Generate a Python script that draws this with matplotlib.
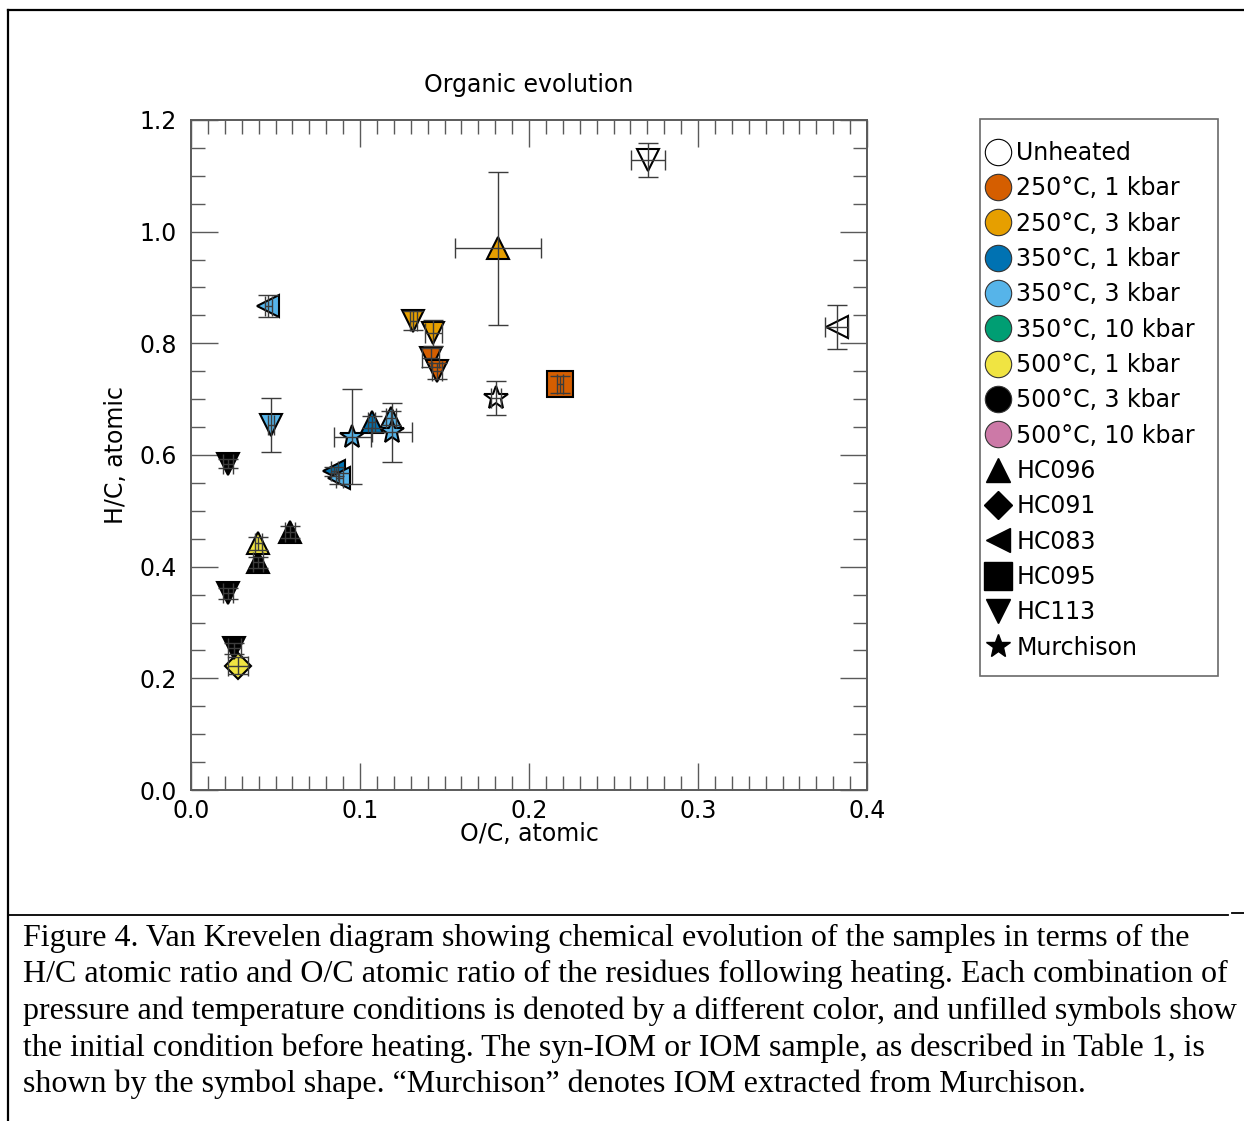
"""Diagrama de Van Krevelen: evolucion de H/C y O/C de los residuos tras el calentamiento."""
import matplotlib

matplotlib.use("Agg")
import matplotlib.pyplot as plt  # noqa: E402
from matplotlib.lines import Line2D  # noqa: E402
from matplotlib.patches import Rectangle  # noqa: E402
from matplotlib.ticker import MultipleLocator  # noqa: E402

# --- Datos ---
conditions = [
    "Unheated", "250°C, 1 kbar", "250°C, 3 kbar", "350°C, 1 kbar", "350°C, 3 kbar",
    "350°C, 10 kbar", "500°C, 1 kbar", "500°C, 3 kbar", "500°C, 10 kbar",
]
condition_colors = [
    "#ffffff", "#D55E00", "#E69F00", "#0072B2", "#56B4E9",
    "#009E73", "#F0E442", "#000000", "#CC79A7",
]
samples = ["HC096", "HC091", "HC083", "HC095", "HC113", "Murchison"]
sample_markers = ["^", "D", "<", "s", "v", "*"]

# un elemento por medida, en orden de dibujo
pt_condition = [
    "Unheated", "Unheated", "Unheated",
    "250°C, 3 kbar", "250°C, 3 kbar", "250°C, 3 kbar",
    "250°C, 1 kbar", "250°C, 1 kbar", "250°C, 1 kbar",
    "350°C, 3 kbar", "350°C, 3 kbar", "350°C, 3 kbar", "350°C, 1 kbar",
    "350°C, 1 kbar", "350°C, 3 kbar",
    "350°C, 3 kbar", "350°C, 3 kbar",
    "500°C, 3 kbar", "500°C, 3 kbar", "500°C, 3 kbar", "500°C, 1 kbar",
    "500°C, 3 kbar", "500°C, 1 kbar", "500°C, 3 kbar",
]
pt_sample = [
    "HC113", "HC083", "Murchison",
    "HC096", "HC113", "HC113",
    "HC113", "HC113", "HC095",
    "HC083", "HC113", "HC096", "HC096",
    "HC083", "HC083",
    "Murchison", "Murchison",
    "HC113", "HC096", "HC096", "HC096",
    "HC113", "HC091", "HC113",
]
oc = [
    0.2704, 0.382, 0.1805,
    0.1818, 0.1315, 0.1434,
    0.1418, 0.1458, 0.2183,
    0.0457, 0.0473, 0.1183, 0.107,
    0.0849, 0.0878,
    0.0955, 0.119,
    0.0217, 0.0586, 0.0398, 0.0398,
    0.0217, 0.028, 0.0256,
]
hc = [
    1.128, 0.829, 0.702,
    0.970, 0.8406, 0.8186,
    0.774, 0.750, 0.7267,
    0.867, 0.654, 0.666, 0.659,
    0.571, 0.558,
    0.633, 0.641,
    0.584, 0.462, 0.408, 0.4415,
    0.352, 0.2226, 0.254,
]
oc_err = [
    0.010, 0.007, 0.003,
    0.0255, 0.002, 0.005,
    0.005, 0.003, 0.002,
    0.002, 0.002, 0.003, 0.002,
    0.002, 0.002,
    0.011, 0.012,
    0.003, 0.003, 0.003, 0.002,
    0.003, 0.006, 0.004,
]
hc_err = [
    0.030, 0.040, 0.030,
    0.137, 0.017, 0.024,
    0.017, 0.014, 0.015,
    0.020, 0.048, 0.012, 0.010,
    0.008, 0.010,
    0.085, 0.053,
    0.008, 0.010, 0.010, 0.012,
    0.010, 0.015, 0.010,
]

caption_lines = [
    "Figure 4. Van Krevelen diagram showing chemical evolution of the samples in terms of the",
    "H/C atomic ratio and O/C atomic ratio of the residues following heating. Each combination of",
    "pressure and temperature conditions is denoted by a different color, and unfilled symbols show",
    "the initial condition before heating. The syn-IOM or IOM sample, as described in Table 1, is",
    "shown by the symbol shape. \u201cMurchison\u201d denotes IOM extracted from Murchison.",
]

# --- Estilo ---
FS = 17
TICK_GREY = "#5a5a5a"
ERR_GREY = "#3c3c3c"
MARKER_SIZE = {"^": 15.5, "v": 15.5, "<": 15.5, "s": 19, "D": 13.2, "*": 18}
LEGEND_SIZE = {"^": 17, "v": 17, "<": 17, "s": 20, "D": 14, "*": 18}

plt.rcParams["font.family"] = ["DejaVu Sans"]

fig = plt.figure(figsize=(12.44, 11.21), dpi=100)
W, H = 1244, 1121
ax = fig.add_axes([191 / W, 1 - 790 / H, 676 / W, 670 / H])

color_of = dict(zip(conditions, condition_colors))
marker_of = dict(zip(samples, sample_markers))

for cond, samp, x, y in zip(pt_condition, pt_sample, oc, hc):
    m = marker_of[samp]
    ax.plot(x, y, linestyle="none", marker=m, markersize=MARKER_SIZE[m],
            markerfacecolor=color_of[cond], markeredgecolor="black",
            markeredgewidth=1.5, zorder=2)

ax.errorbar(oc, hc, xerr=oc_err, yerr=hc_err, fmt="none", ecolor=ERR_GREY,
            elinewidth=1.0, capsize=7, capthick=1.0, zorder=3)

ax.set_xlim(0, 0.4)
ax.set_ylim(0, 1.2)
ax.xaxis.set_major_locator(MultipleLocator(0.1))
ax.xaxis.set_minor_locator(MultipleLocator(0.01))
ax.yaxis.set_major_locator(MultipleLocator(0.2))
ax.yaxis.set_minor_locator(MultipleLocator(0.05))
ax.tick_params(which="both", direction="in", top=True, right=True,
               color=TICK_GREY, width=1.0, labelsize=FS)
ax.tick_params(which="major", length=19.5)
ax.tick_params(which="minor", length=10)
ax.tick_params(axis="x", pad=6.5)
ax.tick_params(axis="y", pad=10)
for sp in ax.spines.values():
    sp.set_color(TICK_GREY)
    sp.set_linewidth(1.4)

ax.set_title("Organic evolution", fontsize=FS, pad=20)
ax.set_xlabel("O/C, atomic", fontsize=FS)
ax.set_ylabel("H/C, atomic", fontsize=FS)
ax.xaxis.set_label_coords(0.5, -0.048)
ax.yaxis.set_label_coords(-0.093, 0.5)

# --- Leyenda: colores (condicion) + formas (muestra) ---
handles = []
for cond, col in zip(conditions, condition_colors):
    handles.append(Line2D([], [], linestyle="none", marker="o", markersize=19,
                          markerfacecolor=col,
                          markeredgecolor="black" if cond == "Unheated" else "#333333",
                          markeredgewidth=0.8, label=cond))
for samp, m in zip(samples, sample_markers):
    handles.append(Line2D([], [], linestyle="none", marker=m,
                          markersize=LEGEND_SIZE[m], color="black", label=samp))

# marco dibujado aparte para controlar su tamano exacto
fig.legend(handles=handles, loc="upper left",
           bbox_to_anchor=(977.5 / W, 1 - 128 / H), borderaxespad=0,
           fontsize=FS, frameon=False, borderpad=0.55,
           handlelength=0.65, handletextpad=0.45, labelspacing=0.48)
fig.add_artist(Rectangle((980 / W, 1 - 676 / H), 238 / W, 557 / H,
                         transform=fig.transFigure, facecolor="none",
                         edgecolor="#6a6a6a", linewidth=1.2))

# --- Marco de la figura y pie ---
def fline(x0, x1, y0, y1, lw=1.6):
    fig.add_artist(Line2D([x0 / W, x1 / W], [1 - y0 / H, 1 - y1 / H],
                          transform=fig.transFigure, color="black", linewidth=lw))


fline(8, W, 10, 10)
fline(8, 8, 10, H)
fline(8, 1228, 915, 915, lw=1.3)
fline(1232, W, 913, 913, lw=1.3)

baselines = [946, 982, 1019, 1056, 1092]
for txt, yb in zip(caption_lines, baselines):
    fig.text(23 / W, 1 - yb / H, txt, fontsize=23.0, va="baseline", ha="left",
             family=["Liberation Serif", "DejaVu Serif"])

fig.savefig("out.png", dpi=100)
